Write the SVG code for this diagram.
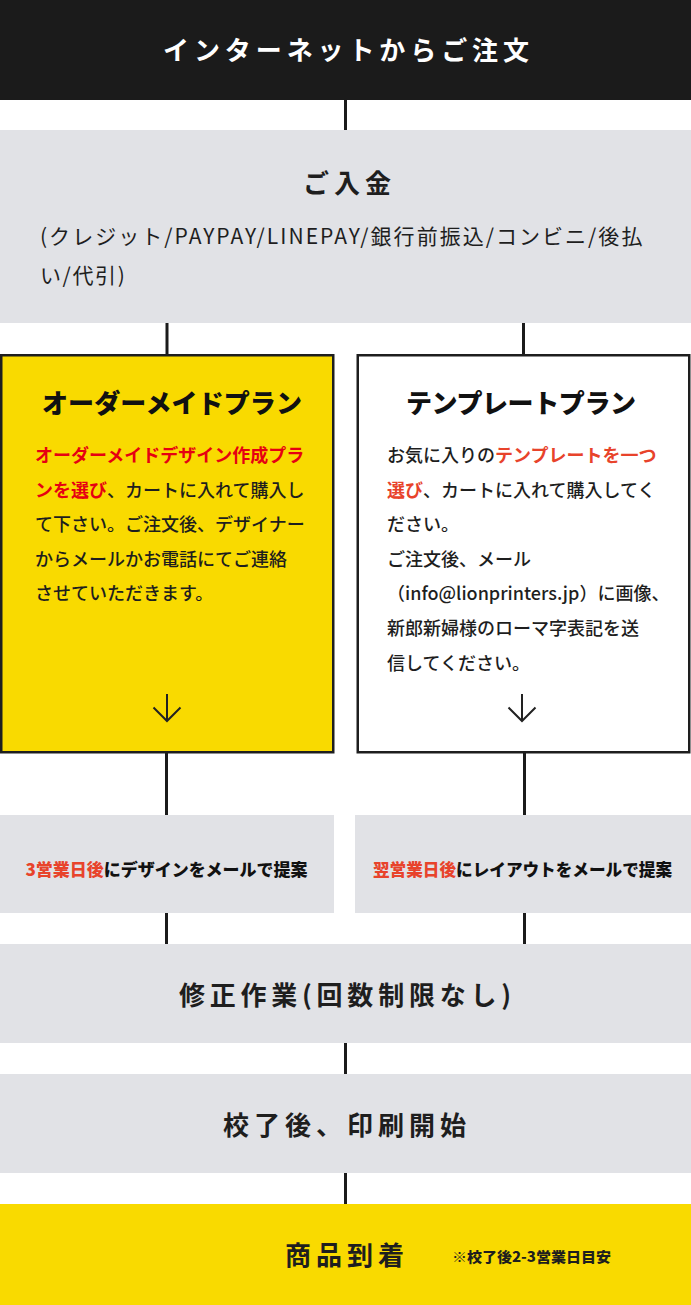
<svg xmlns="http://www.w3.org/2000/svg" width="691" height="1305" viewBox="0 0 691 1305">
<style>
text{font-family:"Noto Sans CJK JP","Noto Sans",sans-serif;fill:#1e1e1e}
.hd{fill:#ffffff;font-size:26px;font-weight:700}
.big{font-size:26px;font-weight:700}
.ttl{font-size:26px;font-weight:900;fill:#111}
.body{font-size:18px;font-weight:500}
.rd1{fill:#e60012;font-weight:700}
.rd2{fill:#e8432b;font-weight:700}
.sm{font-size:17px;font-weight:900;fill:#111}
.pay{font-size:21px;font-weight:400;letter-spacing:1.6px}
.gray{fill:#e1e2e6}
.yel{fill:#f9da00}
.conn{stroke:#1b1b1b;stroke-width:3;fill:none}
.arr{stroke:#222;stroke-width:2;fill:none}
</style>
<rect width="691" height="1305" fill="#ffffff"/>
<g id="connectors">
<line class="conn" x1="345.5" y1="100" x2="345.5" y2="130"/>
<line class="conn" x1="167" y1="323" x2="167" y2="355"/>
<line class="conn" x1="523.5" y1="323" x2="523.5" y2="355"/>
<line class="conn" x1="166.5" y1="753" x2="166.5" y2="815"/>
<line class="conn" x1="524.5" y1="753" x2="524.5" y2="815"/>
<line class="conn" x1="166.5" y1="913" x2="166.5" y2="944"/>
<line class="conn" x1="524.5" y1="913" x2="524.5" y2="944"/>
<line class="conn" x1="345.5" y1="1043" x2="345.5" y2="1074"/>
<line class="conn" x1="345.5" y1="1173" x2="345.5" y2="1204"/>
</g>
<g id="n-order">
<rect x="0" y="0" width="691" height="100" fill="#1b1b1b"/>
<text class="hd" x="163" y="60" textLength="366" lengthAdjust="spacing">インターネットからご注文</text>
</g>
<g id="n-payment">
<rect class="gray" x="0" y="130" width="691" height="193"/>
<text class="big" x="303" y="193" font-size="25" textLength="88" lengthAdjust="spacing">ご入金</text>
<text class="pay" x="40" y="244" textLength="604" lengthAdjust="spacing">(クレジット/PAYPAY/LINEPAY/銀行前振込/コンビニ/後払</text>
<text class="pay" x="40" y="283">い/代引)</text>
</g>
<g id="n-ordermade">
<rect class="yel" x="1.25" y="355.25" width="332" height="397" stroke="#1e1e1e" stroke-width="2.5"/>
<text class="ttl" x="42" y="413" textLength="260" lengthAdjust="spacing">オーダーメイドプラン</text>
<text class="body" x="35" y="462"><tspan class="rd1">オーダーメイドデザイン作成プラ</tspan></text>
<text class="body" x="35" y="496.6"><tspan class="rd1">ンを選び</tspan>、カートに入れて購入し</text>
<text class="body" x="35" y="531.2">て下さい。ご注文後、デザイナー</text>
<text class="body" x="35" y="565.8">からメールかお電話にてご連絡</text>
<text class="body" x="35" y="600.4">させていただきます。</text>
<path class="arr" d="M167 694V721M153.5 707.5L167 721L180.5 707.5"/>
</g>
<g id="n-template">
<rect x="357.75" y="355.25" width="331.5" height="397" fill="#ffffff" stroke="#1e1e1e" stroke-width="2.5"/>
<text class="ttl" x="406" y="413" textLength="230" lengthAdjust="spacing">テンプレートプラン</text>
<text class="body" x="387" y="462">お気に入りの<tspan class="rd2">テンプレートを一つ</tspan></text>
<text class="body" x="387" y="496.6"><tspan class="rd2">選び</tspan>、カートに入れて購入してく</text>
<text class="body" x="387" y="531.2">ださい。</text>
<text class="body" x="387" y="565.8">ご注文後、メール</text>
<text class="body" x="387" y="600.4">（info@lionprinters.jp）に画像、</text>
<text class="body" x="387" y="635">新郎新婦様のローマ字表記を送</text>
<text class="body" x="387" y="669.6">信してください。</text>
<path class="arr" d="M522 694V721M508.5 707.5L522 721L535.5 707.5"/>
</g>
<g id="n-design">
<rect class="gray" x="0" y="815" width="334" height="98"/>
<text class="sm" x="25.5" y="876" textLength="282" lengthAdjust="spacingAndGlyphs"><tspan fill="#e8432b">3営業日後</tspan>にデザインをメールで提案</text>
</g>
<g id="n-layout">
<rect class="gray" x="355" y="815" width="336" height="98"/>
<text class="sm" x="373" y="876" textLength="299" lengthAdjust="spacingAndGlyphs"><tspan fill="#e8432b">翌営業日後</tspan>にレイアウトをメールで提案</text>
</g>
<g id="n-revision">
<rect class="gray" x="0" y="944" width="691" height="99"/>
<text class="big" x="179" y="1005" textLength="332" lengthAdjust="spacing">修正作業(回数制限なし)</text>
</g>
<g id="n-print">
<rect class="gray" x="0" y="1074" width="691" height="99"/>
<text class="big" x="223" y="1135" textLength="243" lengthAdjust="spacing">校了後、印刷開始</text>
</g>
<g id="n-arrival">
<rect class="yel" x="0" y="1204" width="691" height="101"/>
<text class="big" x="285" y="1265" font-size="28" textLength="119" lengthAdjust="spacing">商品到着</text>
<text x="452" y="1262" font-size="14" font-weight="900" fill="#111" textLength="159" lengthAdjust="spacingAndGlyphs">※校了後2-3営業日目安</text>
</g>
</svg>
